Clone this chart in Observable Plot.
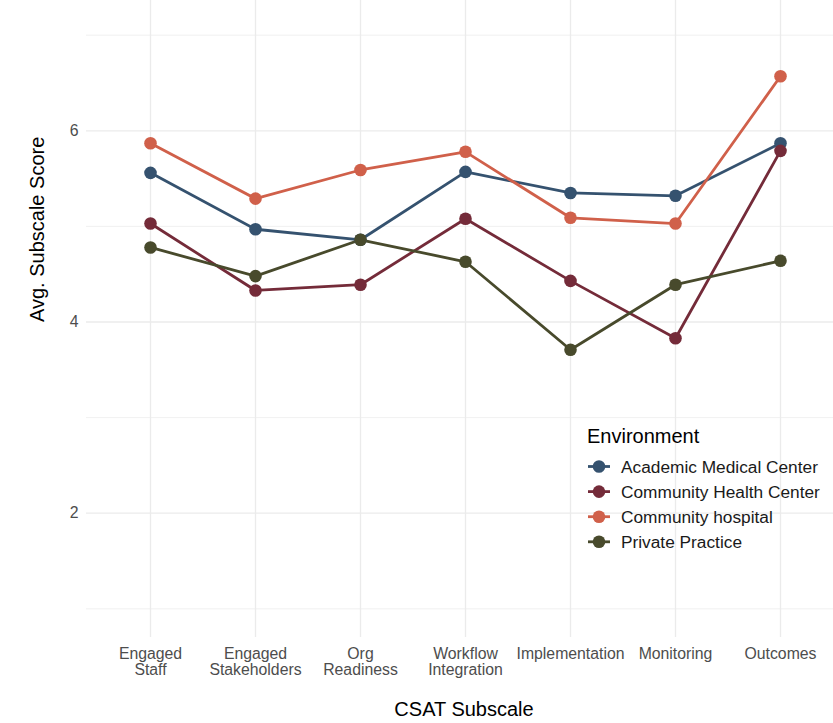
<!DOCTYPE html>
<html>
<head>
<meta charset="utf-8">
<script src="https://cdn.jsdelivr.net/npm/d3@7"></script>
<script src="https://cdn.jsdelivr.net/npm/@observablehq/plot@0.6"></script>
<style>
  body { margin: 0; background: #fff; font-family: "Liberation Sans", Arial, sans-serif; }
  #wrap { position: relative; width: 833px; height: 723px; }
  #wrap > svg { position: absolute; left: 0; top: 0; }
</style>
</head>
<body>
<div id="wrap"></div>
<script>
const categories = ["Engaged Staff", "Engaged Stakeholders", "Org Readiness", "Workflow Integration", "Implementation", "Monitoring", "Outcomes"];
const tickLabels = ["Engaged\nStaff", "Engaged\nStakeholders", "Org\nReadiness", "Workflow\nIntegration", "Implementation", "Monitoring", "Outcomes"];
const environments = ["Academic Medical Center", "Community Health Center", "Community hospital", "Private Practice"];
const colors = ["#35526f", "#742b39", "#d0604a", "#484a2c"];
const academic  = [5.56, 4.97, 4.86, 5.57, 5.35, 5.32, 5.87];
const chc       = [5.03, 4.33, 4.39, 5.08, 4.43, 3.83, 5.79];
const hospital  = [5.87, 5.29, 5.59, 5.78, 5.09, 5.03, 6.57];
const privatePr = [4.78, 4.48, 4.86, 4.63, 3.71, 4.39, 4.64];
const yTicks = [2, 4, 6];
const yMinor = [1, 3, 5, 7];

const seriesValues = [academic, chc, hospital, privatePr];
const data = [];
environments.forEach((env, i) => {
  seriesValues[i].forEach((v, j) => data.push({env, subscale: categories[j], score: v}));
});

const labelOf = new Map(categories.map((c, i) => [c, tickLabels[i]]));

const chart = Plot.plot({
  width: 833,
  height: 723,
  marginLeft: 86,
  marginRight: 0,
  marginTop: 6,
  marginBottom: 86,
  style: {fontFamily: "Liberation Sans, Arial, sans-serif", background: "#fff"},
  x: {type: "point", domain: categories, range: [149, 780], padding: 0, label: null},
  y: {domain: [0.7, 7.3], range: [637, 6], label: null},
  color: {domain: environments, range: colors},
  marks: [
    Plot.ruleY(yMinor, {stroke: "#ebebeb", strokeWidth: 0.7}),
    Plot.ruleY(yTicks, {stroke: "#ebebeb", strokeWidth: 1.3}),
    Plot.ruleX(categories, {stroke: "#ebebeb", strokeWidth: 1.3, y1: 7.4, y2: 0.7}),
    Plot.axisY(yTicks, {tickSize: 0, tickPadding: 8, fontSize: 15.8, fill: "#4d4d4d", label: null, tickFormat: d => String(d)}),
    Plot.axisX(categories, {tickSize: 0, tickPadding: 9.5, fontSize: 15.8, fill: "#4d4d4d", label: null, lineHeight: 1.05, tickFormat: d => labelOf.get(d)}),
    Plot.text(["Avg. Subscale Score"], {frameAnchor: "left", dx: -49, rotate: -90, fontSize: 20, fill: "#000", text: d => d}),
    Plot.text(["CSAT Subscale"], {frameAnchor: "bottom", dy: 78, dx: 4, fontSize: 20, fill: "#000", text: d => d}),
    Plot.line(data, {x: "subscale", y: "score", stroke: "env", z: "env", strokeWidth: 2.8}),
    Plot.dot(data, {x: "subscale", y: "score", fill: "env", r: 6.3, stroke: null})
  ]
});
chart.setAttribute("overflow", "visible");
document.getElementById("wrap").appendChild(chart);

// legend (SVG overlay using the chart's color scale)
const cscale = chart.scale("color");
const ns = "http://www.w3.org/2000/svg";
const lg = document.createElementNS(ns, "svg");
lg.setAttribute("width", 833); lg.setAttribute("height", 723);
lg.style.position = "absolute"; lg.style.left = "0"; lg.style.top = "0";
lg.style.fontFamily = "Liberation Sans, Arial, sans-serif";
const title = document.createElementNS(ns, "text");
title.setAttribute("x", 587); title.setAttribute("y", 443);
title.setAttribute("font-size", 20); title.setAttribute("fill", "#000");
title.textContent = "Environment";
lg.appendChild(title);
environments.forEach((env, i) => {
  const cy = 466.5 + i * 25.1;
  const c = cscale.apply(env);
  const g = document.createElementNS(ns, "g");
  g.innerHTML = `<line x1="588" x2="610" y1="${cy}" y2="${cy}" stroke="${c}" stroke-width="2.8"/>` +
    `<circle cx="599" cy="${cy}" r="6.3" fill="${c}"/>` +
    `<text x="621" y="${cy}" dy="0.35em" font-size="17.3" fill="#1a1a1a">${env}</text>`;
  lg.appendChild(g);
});
document.getElementById("wrap").appendChild(lg);
</script>
</body>
</html>
